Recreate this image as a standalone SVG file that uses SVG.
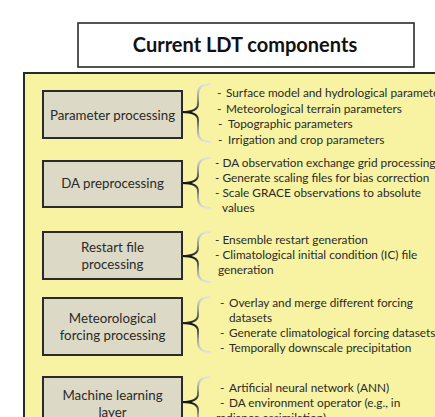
<svg xmlns="http://www.w3.org/2000/svg" width="435" height="417" viewBox="0 0 435 417">
<style>
  .title { font-family: Lato, "Open Sans", "Liberation Sans", sans-serif; font-weight: bold; font-size: 20px; fill: #111; }
  .box { fill: #dcd9c6; stroke: #2a2a2a; stroke-width: 2; }
  .lbl { font-family: Lato, "Open Sans", "Liberation Sans", sans-serif; font-size: 13.3px; fill: #2a2a2a; text-anchor: middle; }
  .item { font-family: Lato, "Open Sans", "Liberation Sans", sans-serif; font-size: 11.8px; fill: #2a2a2a; }
  .brace { fill: none; stroke: url(#bg); stroke-width: 2; stroke-linecap: round; }
</style>
<defs>
  <linearGradient id="bg" x1="0" y1="0" x2="0" y2="1">
    <stop offset="0" stop-color="#e4e4dc"/>
    <stop offset="0.25" stop-color="#9a9a92"/>
    <stop offset="0.5" stop-color="#111"/>
    <stop offset="0.75" stop-color="#9a9a92"/>
    <stop offset="1" stop-color="#e4e4dc"/>
  </linearGradient>
</defs>
<rect width="435" height="417" fill="#ffffff"/>

<g id="title">
  <rect x="78" y="23" width="336" height="44" fill="#fff" stroke="#2a2a2a" stroke-width="1.6"/>
  <text class="title" x="245" y="52" text-anchor="middle">Current LDT components</text>
</g>

<g id="panel">
  <rect x="24" y="73" width="430" height="370" fill="#f7f3a2" stroke="#2a2a2a" stroke-width="2"/>
</g>

<g id="connectors">
  <path class="brace" d="M210 84 C201 84,198 88,198 94 L198 104 C198 109,192 112,182 112 C192 112,198 115,198 120 L198 132 C198 138,201 142,210 142"/>
  <path class="brace" d="M210 158 C201 158,198 162,198 168 L198 175 C198 180,192 183,182 183 C192 183,198 186,198 191 L198 198 C198 204,201 208,210 208"/>
  <path class="brace" d="M210 232 C201 232,198 236,198 242 L198 248 C198 253,192 256,182 256 C192 256,198 259,198 264 L198 272 C198 278,201 282,210 282"/>
  <path class="brace" d="M210 297 C201 297,198 301,198 307 L198 315 C198 320,192 323,182 323 C192 323,198 326,198 331 L198 342 C198 348,201 352,210 352"/>
  <path class="brace" d="M210 377 C201 377,198 381,198 387 L198 394 C198 399,192 402,182 402 C192 402,198 405,198 410 L198 417 C198 423,201 427,210 427"/>
</g>

<g id="parameter-processing">
  <rect class="box" x="43" y="91" width="139" height="47"/>
  <text class="lbl" x="112.5" y="120">Parameter processing</text>
  <text class="item" y="97"><tspan x="217">-</tspan><tspan x="226">Surface model and hydrological parameters</tspan></text>
  <text class="item" y="112.5"><tspan x="217">-</tspan><tspan x="226">Meteorological terrain parameters</tspan></text>
  <text class="item" y="128"><tspan x="218">-</tspan><tspan x="228">Topographic parameters</tspan></text>
  <text class="item" y="143.5"><tspan x="218">-</tspan><tspan x="228">Irrigation and crop parameters</tspan></text>
</g>

<g id="da-preprocessing">
  <rect class="box" x="43" y="161" width="139" height="46"/>
  <text class="lbl" x="112.5" y="188">DA preprocessing</text>
  <text class="item" x="215" y="167">- DA observation exchange grid processing</text>
  <text class="item" x="215" y="182">- Generate scaling files for bias correction</text>
  <text class="item" x="215" y="197">- Scale GRACE observations to absolute</text>
  <text class="item" x="222" y="212">values</text>
</g>

<g id="restart-file-processing">
  <rect class="box" x="43" y="232" width="139" height="47"/>
  <text class="lbl" x="112.5" y="252">Restart file</text>
  <text class="lbl" x="112.5" y="269">processing</text>
  <text class="item" x="215" y="244">- Ensemble restart generation</text>
  <text class="item" x="215" y="259">- Climatological initial condition (IC) file</text>
  <text class="item" x="218" y="274">generation</text>
</g>

<g id="meteorological-forcing-processing">
  <rect class="box" x="43" y="298" width="139" height="57"/>
  <text class="lbl" x="112.5" y="323">Meteorological</text>
  <text class="lbl" x="112.5" y="340">forcing processing</text>
  <text class="item" y="307"><tspan x="220">-</tspan><tspan x="229">Overlay and merge different forcing</tspan></text>
  <text class="item" x="229" y="322">datasets</text>
  <text class="item" y="337"><tspan x="220">-</tspan><tspan x="229">Generate climatological forcing datasets</tspan></text>
  <text class="item" y="352"><tspan x="220">-</tspan><tspan x="229">Temporally downscale precipitation</tspan></text>
</g>

<g id="machine-learning-layer">
  <rect class="box" x="43" y="377" width="139" height="57"/>
  <text class="lbl" x="112.5" y="400">Machine learning</text>
  <text class="lbl" x="112.5" y="417">layer</text>
  <text class="item" y="392"><tspan x="220">-</tspan><tspan x="229">Artificial neural network (ANN)</tspan></text>
  <text class="item" y="407"><tspan x="220">-</tspan><tspan x="229">DA environment operator (e.g., in</tspan></text>
  <text class="item" x="216" y="422">radiance assimilation)</text>
</g>
</svg>
